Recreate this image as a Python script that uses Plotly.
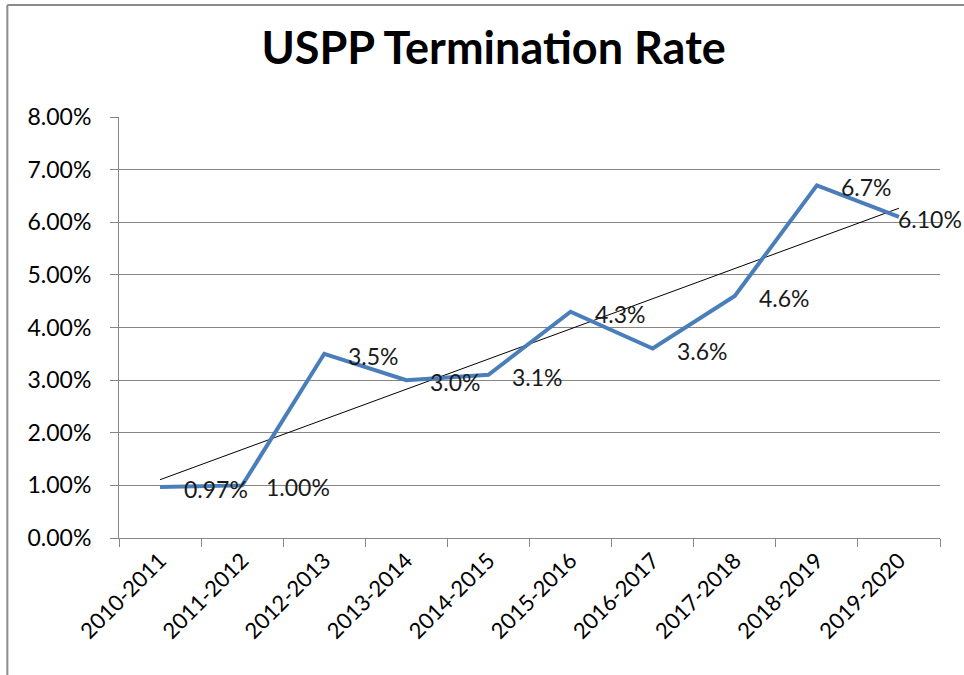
import numpy as np
import plotly.graph_objects as go

# data
years = ["2010-2011", "2011-2012", "2012-2013", "2013-2014", "2014-2015",
         "2015-2016", "2016-2017", "2017-2018", "2018-2019", "2019-2020"]
rates = [0.97, 1.00, 3.5, 3.0, 3.1, 4.3, 3.6, 4.6, 6.7, 6.10]
labels = ["0.97%", "1.00%", "3.5%", "3.0%", "3.1%", "4.3%", "3.6%", "4.6%", "6.7%", "6.10%"]
y_ticks = [0, 1, 2, 3, 4, 5, 6, 7, 8]

FONT = "Lato"
GRID = "#868686"

# linear trendline like excel's
idx = np.arange(len(rates))
slope, intercept = np.polyfit(idx, rates, 1)
trend = slope * idx + intercept

fig = go.Figure()

fig.add_trace(go.Scatter(
    x=years, y=trend, mode="lines",
    line=dict(color="black", width=1),
    showlegend=False, hoverinfo="skip"
))

fig.add_trace(go.Scatter(
    x=years, y=rates, mode="lines",
    line=dict(color="#4a7ebb", width=4),
    showlegend=False
))

# data labels sit to the right of each point
for i, (yr, v, lab) in enumerate(zip(years, rates, labels)):
    shift = 22 if i < len(years) - 1 else -3  # last one gets pushed in
    fig.add_annotation(
        x=yr, y=v, text=lab, showarrow=False,
        xanchor="left", yanchor="middle",
        xshift=shift, yshift=-2,
        font=dict(family=FONT, size=23, color="#1a1a1a")
    )

# gray frame around the chart object (top + left edges visible)
fig.add_shape(type="line", xref="paper", yref="paper",
              x0=-0.136, x1=1.1, y0=1.266, y1=1.266,
              line=dict(color="#8c8c8c", width=2))
fig.add_shape(type="line", xref="paper", yref="paper",
              x0=-0.136, x1=-0.136, y0=1.266, y1=-0.4,
              line=dict(color="#8c8c8c", width=2))

fig.update_layout(
    width=964, height=675,
    margin=dict(l=119, r=24, t=117, b=137),
    paper_bgcolor="white", plot_bgcolor="white",
    title=dict(
        text="<b>USPP Termination Rate</b>",
        font=dict(family=FONT, size=45, color="black"),
        x=0.512, xref="container", xanchor="center",
        y=0.929, yref="container", yanchor="middle"
    ),
    xaxis=dict(
        type="category",
        range=[-0.5, len(years) - 0.5],
        tickson="boundaries",
        ticks="outside", ticklen=8, tickcolor=GRID,
        showline=True, linecolor=GRID, linewidth=1,
        showgrid=False,
        tickangle=-45,
        tickfont=dict(family=FONT, size=22, color="black"),
        automargin=False,
    ),
    yaxis=dict(
        range=[0, 8],
        tickvals=y_ticks,
        ticktext=[f"{t:.2f}%" for t in y_ticks],
        ticks="outside", ticklen=8, tickcolor=GRID,
        showline=True, linecolor=GRID, linewidth=1,
        showgrid=True, gridcolor=GRID, gridwidth=1,
        zeroline=False,
        tickfont=dict(family=FONT, size=23, color="black"),
        ticklabelstandoff=14,
        automargin=False,
    ),
)

# drop the default 8px body margin so the figure sits at the page corner
fig.write_html("out.html", config={"displayModeBar": False},
               post_script="document.body.style.margin='0';")
